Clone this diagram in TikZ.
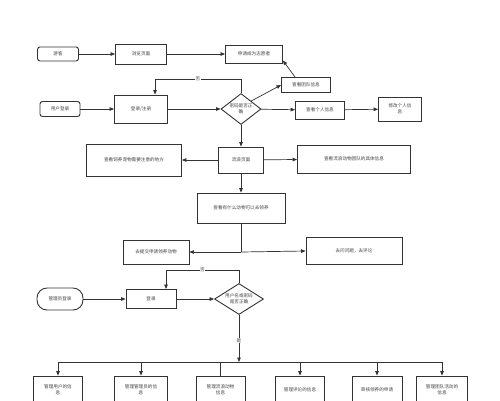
\documentclass[tikz,border=0pt]{standalone}
\usepackage{fontspec}
\setmainfont{Noto Sans CJK SC}
\usetikzlibrary{arrows.meta,shapes.geometric}

\begin{document}
\begin{tikzpicture}[x=1pt,y=-1pt,
	font=\fontsize{4.6}{6}\selectfont,
	box/.style={draw=black!80,line width=0.9pt,text=black!75,align=center,inner sep=1pt},
	rbox/.style={box,rounded corners=2.5pt},
	pan/.style={box,diamond,aspect=1.6,inner sep=0pt},
	line/.style={draw=black!80,line width=0.7pt},
	jt/.style={line,-{Triangle[length=4.5pt,width=3.6pt]}},
	lab/.style={fill=white,inner sep=0.5pt,text=black!75}]
	\useasboundingbox (0,0) rectangle (500,400);
	\clip (0,0) rectangle (500,400);
	% visitor part
	\node[rbox,minimum width=41,minimum height=14] (youke) at (58,54) {游客};
	\node[box,minimum width=51,minimum height=20] (liulan) at (141,54) {浏览页面};
	\node[box,minimum width=57,minimum height=18] (shenqing) at (254,54) {申请成为志愿者};
	\draw[jt] (youke) -- (liulan);
	\draw[jt] (liulan) -- (shenqing);
	% user part
	\node[rbox,minimum width=40,minimum height=15] (yonghu) at (60,109) {用户登录};
	\node[box,minimum width=53,minimum height=28] (denglu) at (141,109) {登录/注册};
	\node[pan,minimum width=40,minimum height=31] (mima) at (241,109) {密码是否正\\确};
	\node[box,minimum width=49,minimum height=15] (tuandui) at (306,85) {查看团队信息};
	\node[box,minimum width=49,minimum height=18] (geren) at (320,110) {查看个人信息};
	\node[box,minimum width=43,minimum height=24] (xiugai) at (400,109) {修改个人信\\息};
	\draw[jt] (yonghu) -- (denglu);
	\draw[jt] (denglu) -- (mima);
	\draw[jt] (mima.north) -- ++(0,-14) -| ([xshift=14pt]denglu.north) node[lab,pos=0.25] {否};
	\draw[jt] (mima.north east) -- (tuandui.west);
	\draw[jt] ([xshift=-11pt]tuandui.north) -- ([yshift=3pt]shenqing.south east);
	\draw[jt] (mima) -- (geren);
	\draw[jt] (geren) -- (xiugai);
	% pages
	\node[box,minimum width=45,minimum height=26] (liulang) at (241,160) {流浪页面};
	\node[box,minimum width=95,minimum height=32] (siyang) at (134,160) {查看饲养宠物需要注意的地方};
	\node[box,minimum width=113,minimum height=28] (juti) at (354,159) {查看流浪动物团队的具体信息};
	\node[box,minimum width=88,minimum height=30] (lingyang) at (241,208) {查看有什么动物可以去领养};
	\node[box,minimum width=66,minimum height=24] (tijiao) at (156,252) {去提交申请领养动物};
	\node[box,minimum width=96,minimum height=27] (wenti) at (354,251) {去问问题，去评论};
	\coordinate (fen) at (241,252);
	\draw[jt] (mima) -- (liulang);
	\draw[jt] (liulang) -- (siyang);
	\draw[jt] (liulang) -- (juti);
	\draw[jt] (liulang) -- (lingyang);
	\draw[line] (lingyang.south) -- (fen);
	\draw[jt] (fen) -- (tijiao);
	\draw[jt] (fen) -- (wenti.west);
	% admin part
	\node[box,rounded corners=10pt,minimum width=46,minimum height=22] (guanli) at (60,299) {管理员登录};
	\node[box,minimum width=50,minimum height=19] (dl2) at (151,299) {登录};
	\node[pan,minimum width=49,minimum height=31] (yhm) at (239,299) {用户名或密码\\是否正确};
	\coordinate (zuo) at (58,362);
	\coordinate (you) at (442,362);
	\draw[jt] (guanli) -- (dl2);
	\draw[jt] (dl2) -- (yhm);
	\draw[jt] (yhm.north) -- ++(0,-13) -| ([xshift=15pt]dl2.north) node[lab,pos=0.25] {否};
	\draw[jt] (yhm.south) -- (239,362) node[lab,pos=0.55] {是};
	\draw[line] (zuo) -- (you);
	% admin functions
	\node[box,minimum width=49,minimum height=28] (b1) at (58,390) {管理用户的信\\息};
	\node[box,minimum width=53,minimum height=28] (b2) at (141,390) {管理管理员的信\\息};
	\node[box,minimum width=49,minimum height=28] (b3) at (220.5,390) {管理流浪动物\\信息};
	\node[box,minimum width=49,minimum height=28] (b4) at (300,390) {管理评论的信息};
	\node[box,minimum width=50,minimum height=28] (b5) at (377,390) {审核领养的申请};
	\node[box,minimum width=51,minimum height=28] (b6) at (442,390) {管理团队活动的\\信息};
	\foreach \b in {b1,b2,b4,b5,b6}
		\draw[jt] (\b |- zuo) -- (\b.north);
	\draw[line] (b3 |- zuo) -- (b3.north);
\end{tikzpicture}
\end{document}
